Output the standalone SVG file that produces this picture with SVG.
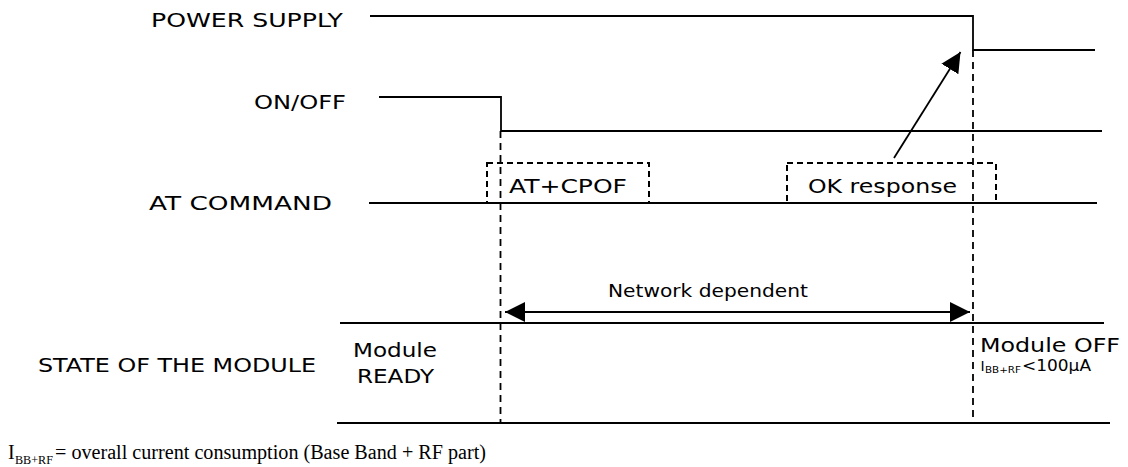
<svg xmlns="http://www.w3.org/2000/svg" width="1128" height="467" viewBox="0 0 1128 467">
<style>
  .lbl { font-family: "DejaVu Sans", "Liberation Sans", sans-serif; font-size: 20px; fill: #000; }
  .small { font-family: "DejaVu Sans", "Liberation Sans", sans-serif; fill: #000; }
  .serif { font-family: "Liberation Serif", "Times New Roman", serif; fill: #000; }
  .sig { fill: none; stroke: #000; stroke-width: 1.8; }
  .dash { fill: none; stroke: #000; stroke-width: 1.8; stroke-dasharray: 7 5; }
  .box { fill: none; stroke: #000; stroke-width: 2; stroke-dasharray: 6 4; }
</style>
<defs>
  <marker id="ah" viewBox="0 0 20 20" refX="20" refY="10" markerWidth="20" markerHeight="20" markerUnits="userSpaceOnUse" orient="auto-start-reverse">
    <path d="M0,0 L20,10 L0,20 Z" fill="#000"/>
  </marker>
</defs>

<g id="labels">
  <text class="lbl" x="151" y="27" textLength="192" lengthAdjust="spacingAndGlyphs">POWER SUPPLY</text>
  <text class="lbl" x="254" y="109" textLength="92" lengthAdjust="spacingAndGlyphs">ON/OFF</text>
  <text class="lbl" x="149" y="210" textLength="183" lengthAdjust="spacingAndGlyphs">AT COMMAND</text>
  <text class="lbl" x="38" y="372" textLength="278" lengthAdjust="spacingAndGlyphs">STATE OF THE MODULE</text>
</g>

<g id="signals">
  <path id="power-supply" class="sig" d="M370,16 H973 V50 H1095"/>
  <path id="on-off" class="sig" d="M379,97 H501 V131 H1102"/>
  <path id="at-command" class="sig" d="M369,203 H1097"/>
  <path id="state-top" class="sig" d="M340,323 H1104"/>
  <path id="state-bottom" class="sig" d="M337,423 H1110"/>
</g>

<g id="node-atcpof">
  <rect class="box" x="487" y="163" width="162" height="40"/>
  <text class="lbl" x="509" y="193" textLength="118" lengthAdjust="spacingAndGlyphs">AT+CPOF</text>
</g>

<g id="node-ok">
  <rect class="box" x="787" y="163" width="209" height="40"/>
  <text class="lbl" x="808" y="193" textLength="149" lengthAdjust="spacingAndGlyphs">OK response</text>
</g>

<g id="node-ready">
  <text class="lbl" x="353" y="357" textLength="84" lengthAdjust="spacingAndGlyphs">Module</text>
  <text class="lbl" x="357" y="383" textLength="77" lengthAdjust="spacingAndGlyphs">READY</text>
</g>

<g id="node-off">
  <text class="lbl" x="980" y="352" textLength="140" lengthAdjust="spacingAndGlyphs">Module OFF</text>
  <text class="small" x="980.5" y="371" font-size="14">I</text>
  <text class="small" x="985" y="373" font-size="8" textLength="36" lengthAdjust="spacingAndGlyphs">BB+RF</text>
  <text class="small" x="1022" y="371" font-size="15" textLength="69" lengthAdjust="spacingAndGlyphs">&lt;100µA</text>
</g>

<g id="connectors">
  <line class="dash" x1="500.5" y1="131" x2="500.5" y2="423"/>
  <line class="dash" x1="973" y1="50" x2="973" y2="423"/>
  <line class="sig" x1="894" y1="158" x2="960.5" y2="52" marker-end="url(#ah)"/>
  <line class="sig" x1="505" y1="312" x2="970" y2="312" marker-start="url(#ah)" marker-end="url(#ah)"/>
  <text class="lbl" x="608" y="297" style="font-size:17px" textLength="200" lengthAdjust="spacingAndGlyphs">Network dependent</text>
</g>

<g id="footer">
  <text class="serif" x="8" y="459" font-size="20">I</text>
  <text class="serif" x="15" y="464" font-size="12" textLength="38" lengthAdjust="spacingAndGlyphs">BB+RF</text>
  <text class="serif" x="55" y="459" font-size="20" textLength="431" lengthAdjust="spacingAndGlyphs">= overall current consumption (Base Band + RF part)</text>
</g>
</svg>
